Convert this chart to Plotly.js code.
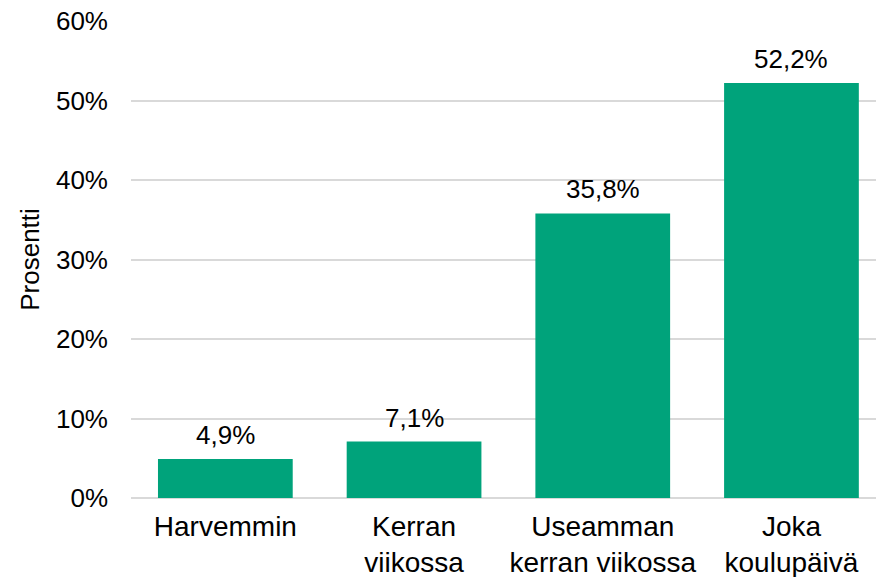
<!DOCTYPE html>
<html><head><meta charset="utf-8">
<script src="https://cdn.plot.ly/plotly-3.0.1.min.js"></script>
<style>html,body{margin:0;padding:0;background:#fff}#chart{width:876px;height:577px}</style>
</head><body><div id="chart"></div>
<script>
const categories = ["Harvemmin", "Kerran<br>viikossa", "Useamman<br>kerran viikossa", "Joka<br>koulupäivä"];
const values = [4.9, 7.1, 35.8, 52.2];
const tickValues = [0, 10, 20, 30, 40, 50, 60];
const tickLabels = ["0%", "10%", "20%", "30%", "40%", "50%", "60%"];
const yTitle = "Prosentti";

const fontFam = "Liberation Sans, Arial, sans-serif";
const labelText = values.map(v => v.toFixed(1).replace('.', ',') + '%');

const trace = {
  type: 'bar', x: categories, y: values,
  marker: {color: '#00A37B'}, width: 0.714,
  hoverinfo: 'none'
};
const annotations = categories.map((c, i) => ({
  x: c, y: values[i], xref: 'x', yref: 'y', text: labelText[i],
  showarrow: false, yanchor: 'bottom', yshift: 7,
  font: {family: fontFam, size: 26, color: '#000'}
}));
const layout = {
  width: 876, height: 577,
  margin: {l: 131, r: 0, t: 21, b: 79},
  paper_bgcolor: '#fff', plot_bgcolor: '#fff',
  showlegend: false,
  xaxis: {
    range: [-0.5, 3.448], showgrid: false, zeroline: false, showline: false,
    ticks: '', ticklabelstandoff: 9,
    tickfont: {family: fontFam, size: 28, color: '#000'}, fixedrange: true
  },
  yaxis: {
    range: [0, 60], tickvals: tickValues, ticktext: tickLabels,
    showgrid: true, gridcolor: '#D9D9D9', gridwidth: 2,
    zeroline: true, zerolinecolor: '#D9D9D9', zerolinewidth: 2,
    showline: false, ticks: '', ticklabelstandoff: 22,
    tickfont: {family: fontFam, size: 26, color: '#000'},
    title: {text: yTitle, font: {family: fontFam, size: 26, color: '#000'}, standoff: 8}
  },
  annotations: annotations
};
Plotly.newPlot('chart', [trace], layout, {staticPlot: true});
</script></body></html>
